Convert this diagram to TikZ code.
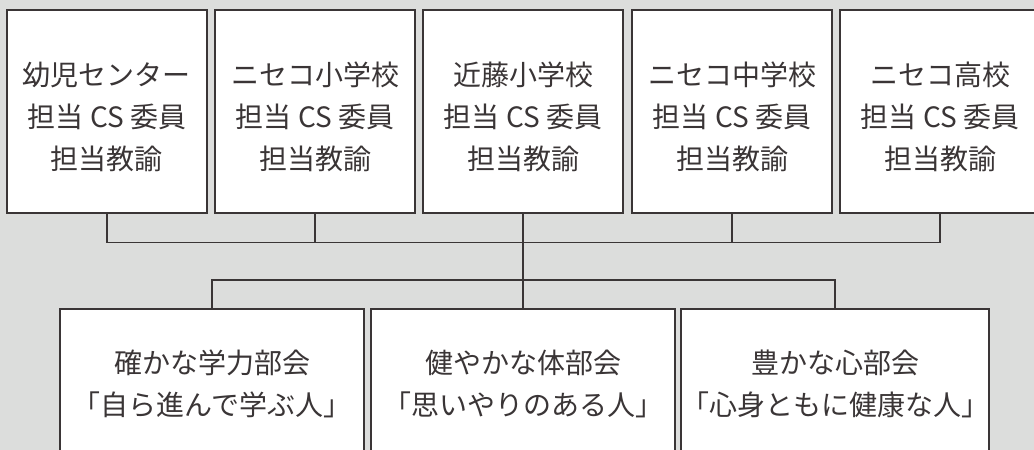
\documentclass[tikz,border=0pt]{standalone}
\usepackage{fontspec}
\setmainfont{Noto Sans CJK JP}
\usepackage{tikz}
\definecolor{bggray}{HTML}{DCDDDC}
\definecolor{linegray}{HTML}{3A3536}

\begin{document}
\begin{tikzpicture}[x=1pt, y=1pt,
  box/.style={draw=linegray, line width=1.1pt, fill=white, inner sep=0pt},
  topbox/.style={box, minimum width=200pt, minimum height=203pt},
  lowbox/.style={box, minimum width=304pt, minimum height=150pt, align=center,
    font=\fontsize{28}{42}\selectfont, text=linegray},
  boxtext/.style={align=center, font=\fontsize{28}{42}\selectfont, text=linegray, inner sep=0pt},
  link/.style={draw=linegray, line width=1.1pt}]
  \useasboundingbox (0,0) rectangle (1034,450);
  \fill[bggray] (0,0) rectangle (1034,450);
  \clip (0,0) rectangle (1034,450);

  \node[topbox] (kids) at (107,338.5) {};
  \node[topbox] (nisesho) at (315,338.5) {};
  \node[topbox] (kondo) at (523,338.5) {};
  \node[topbox] (nisechu) at (732,338.5) {};
  \node[topbox] (koko) at (940,338.5) {};
  \node[boxtext] (kidstext) at ([yshift=-5pt]kids.center) {幼児センター\\担当 CS 委員\\担当教諭};
  \node[boxtext] (niseshotext) at ([yshift=-5pt]nisesho.center) {ニセコ小学校\\担当 CS 委員\\担当教諭};
  \node[boxtext] (kondotext) at ([yshift=-5pt]kondo.center) {近藤小学校\\担当 CS 委員\\担当教諭};
  \node[boxtext] (nisechutext) at ([yshift=-5pt]nisechu.center) {ニセコ中学校\\担当 CS 委員\\担当教諭};
  \node[boxtext] (kokotext) at ([yshift=-5pt]koko.center) {ニセコ高校\\担当 CS 委員\\担当教諭};

  \node[lowbox] (gakuryoku) at (212,66) {確かな学力部会\\「自ら進んで学ぶ人」};
  \node[lowbox] (karada) at (523,66) {健やかな体部会\\「思いやりのある人」};
  \node[lowbox] (kokoro) at (835,66) {豊かな心部会\\「心身ともに健康な人」};

  \coordinate (topbus) at (0,207.5);
  \coordinate (lowbus) at (0,170);

  \draw[link] (kids.south) -- (kids.south |- topbus) -- (koko.south |- topbus) -- (koko.south);
  \draw[link] (nisesho.south) -- (nisesho.south |- topbus);
  \draw[link] (nisechu.south) -- (nisechu.south |- topbus);
  \draw[link] (kondo.south) -- (karada.north);
  \draw[link] (gakuryoku.north) -- (gakuryoku.north |- lowbus) -- (kokoro.north |- lowbus) -- (kokoro.north);
\end{tikzpicture}
\end{document}
